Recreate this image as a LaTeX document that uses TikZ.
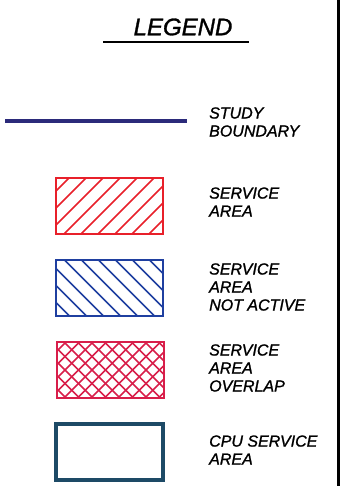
\documentclass[tikz,border=0pt]{standalone}
\usepackage{fontspec}
\setmainfont{Liberation Sans}
\newfontfamily\lettering{Liberation Sans}[FakeBold=1.2]
\definecolor{studyblue}{HTML}{2B2A7A}
\definecolor{areared}{HTML}{E8202A}
\definecolor{areablue}{HTML}{1F3FA0}
\definecolor{overlapred}{HTML}{D81E4A}
\definecolor{cpugreen}{HTML}{1D4A66}
\begin{document}
\begin{tikzpicture}[x=1pt,y=-1pt,
  legendbox/.style={minimum width=107pt, minimum height=56pt, inner sep=0pt, line width=2pt},
  legendtext/.style={anchor=west, align=left, inner sep=0pt, font=\lettering\fontsize{16}{18}\selectfont\itshape},
  hatchline/.style={line width=1.5pt}]
\useasboundingbox (0,0) rectangle (344,486);
\draw[line width=3pt] (338,0) -- (338,486);
\node[inner sep=0pt, font=\lettering\fontsize{24}{26}\selectfont\itshape] (title) at (183,27) {LEGEND};
\coordinate (ulleft) at (103,42);
\coordinate (ulright) at (249,42);
\draw[line width=1.8pt] (ulleft) -- (ulright);
\coordinate (sbleft) at (5,121);
\coordinate (sbright) at (187,121);
\draw[studyblue, line width=4pt] (sbleft) -- (sbright);
\node[legendtext] (sbtext) at (209,122) {STUDY\\BOUNDARY};
\node[legendbox, draw=areared, path picture={
  \foreach \k in {0,...,10}
    \draw[areared, hatchline] ([xshift=\k*17pt-60pt]path picture bounding box.south west) -- ++(70pt,70pt);}]
  (sa) at (109.5,206) {};
\node[legendtext] (satext) at (209,202) {SERVICE\\AREA};
\node[legendbox, draw=areablue, path picture={
  \foreach \k in {0,...,10}
    \draw[areablue, hatchline] ([xshift=\k*17pt-60pt]path picture bounding box.north west) -- ++(70pt,-70pt);}]
  (sna) at (109.5,287.5) {};
\node[legendtext] (snatext) at (209,287) {SERVICE\\AREA\\NOT ACTIVE};
\node[legendbox, draw=overlapred, path picture={
  \foreach \k in {0,...,13} {
    \draw[overlapred, hatchline] ([xshift=\k*13.5pt-60pt]path picture bounding box.south west) -- ++(70pt,70pt);
    \draw[overlapred, hatchline] ([xshift=\k*13.5pt-60pt]path picture bounding box.north west) -- ++(70pt,-70pt);}}]
  (sao) at (110,370) {};
\node[legendtext] (saotext) at (209,368) {SERVICE\\AREA\\OVERLAP};
\node[legendbox, draw=cpugreen, line width=4.5pt] (cpu) at (109.5,452) {};
\node[legendtext] (cputext) at (209,450) {CPU SERVICE\\AREA};
\end{tikzpicture}
\end{document}
